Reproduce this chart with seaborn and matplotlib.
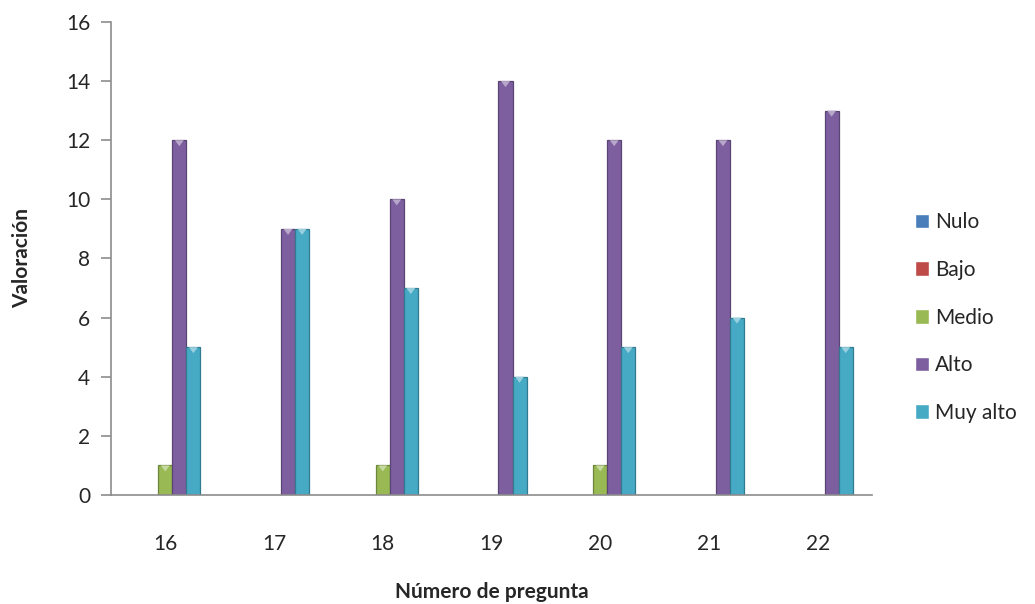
import numpy as np
import pandas as pd
import matplotlib
matplotlib.use("Agg")
import matplotlib.pyplot as plt
import matplotlib.colors as mcolors
from matplotlib.patches import Polygon
import seaborn as sns

preguntas = ["16", "17", "18", "19", "20", "21", "22"]
niveles = ["Nulo", "Bajo", "Medio", "Alto", "Muy alto"]
nulo = [0, 0, 0, 0, 0, 0, 0]
bajo = [0, 0, 0, 0, 0, 0, 0]
medio = [1, 0, 1, 0, 1, 0, 0]
alto = [12, 9, 10, 14, 12, 12, 13]
muy_alto = [5, 9, 7, 4, 5, 6, 5]
colores = ["#4A7EBB", "#BE4B48", "#98B954", "#7D5FA0", "#46AAC5"]

series = [nulo, bajo, medio, alto, muy_alto]
df = pd.DataFrame(
    [(p, n, v) for n, vals in zip(niveles, series) for p, v in zip(preguntas, vals)],
    columns=["pregunta", "nivel", "valor"],
)

sns.set_theme(style="white")
plt.rcParams["font.family"] = ["Lato", "DejaVu Sans"]

fig = plt.figure(figsize=(10.35, 6.04), dpi=100)
ax = fig.add_axes([0.1072, 0.1805, 0.7353, 0.7831])

sns.barplot(
    data=df, x="pregunta", y="valor", hue="nivel",
    order=preguntas, hue_order=niveles, palette=colores,
    width=0.645, gap=0, saturation=1, ax=ax, errorbar=None,
)

ax.set_ylim(0, 16)
ax.set_xlim(-0.5, len(preguntas) - 0.5)

# bevelled look: darker rim and a light wedge on each bar top
px_per_unit = (fig.get_figheight() * fig.dpi * 0.7831) / 16.0
for cont, col in zip(ax.containers, colores):
    rgb = np.array(mcolors.to_rgb(col))
    dark = tuple(rgb * 0.72)
    light = tuple(rgb + (1 - rgb) * 0.45)
    for patch in cont.patches:
        h = patch.get_height()
        if h <= 0:
            patch.set_visible(False)
            continue
        patch.set_edgecolor(dark)
        patch.set_linewidth(0.9)
        x0, w = patch.get_x(), patch.get_width()
        dy = 6.0 / px_per_unit
        tri = Polygon([(x0 + w * 0.18, h), (x0 + w * 0.82, h), (x0 + w * 0.5, h - dy)],
                      closed=True, facecolor=light, edgecolor="none", zorder=patch.get_zorder() + 0.1)
        ax.add_patch(tri)

ax.set_yticks(np.arange(0, 17, 2))

for side in ["top", "right"]:
    ax.spines[side].set_visible(False)
for side in ["left", "bottom"]:
    ax.spines[side].set_color("#8c8c8c")
    ax.spines[side].set_linewidth(1.2)

ax.tick_params(axis="y", which="major", left=True, length=7, width=1.2,
               color="#8c8c8c", labelsize=15, pad=8)
ax.tick_params(axis="x", bottom=False, labelsize=15, pad=22)

ax.set_xlabel("Número de pregunta", fontsize=15, fontweight="bold", labelpad=20)
ax.set_ylabel("Valoración", fontsize=15, fontweight="bold", labelpad=24)

handles, labels = ax.get_legend_handles_labels()
ax.legend(
    handles, labels, loc="center left", bbox_to_anchor=(1.045, 0.375),
    frameon=False, fontsize=15, handlelength=0.7, handleheight=0.7,
    handletextpad=0.3, labelspacing=1.33, borderaxespad=0,
)

fig.savefig("out.png", dpi=100)
